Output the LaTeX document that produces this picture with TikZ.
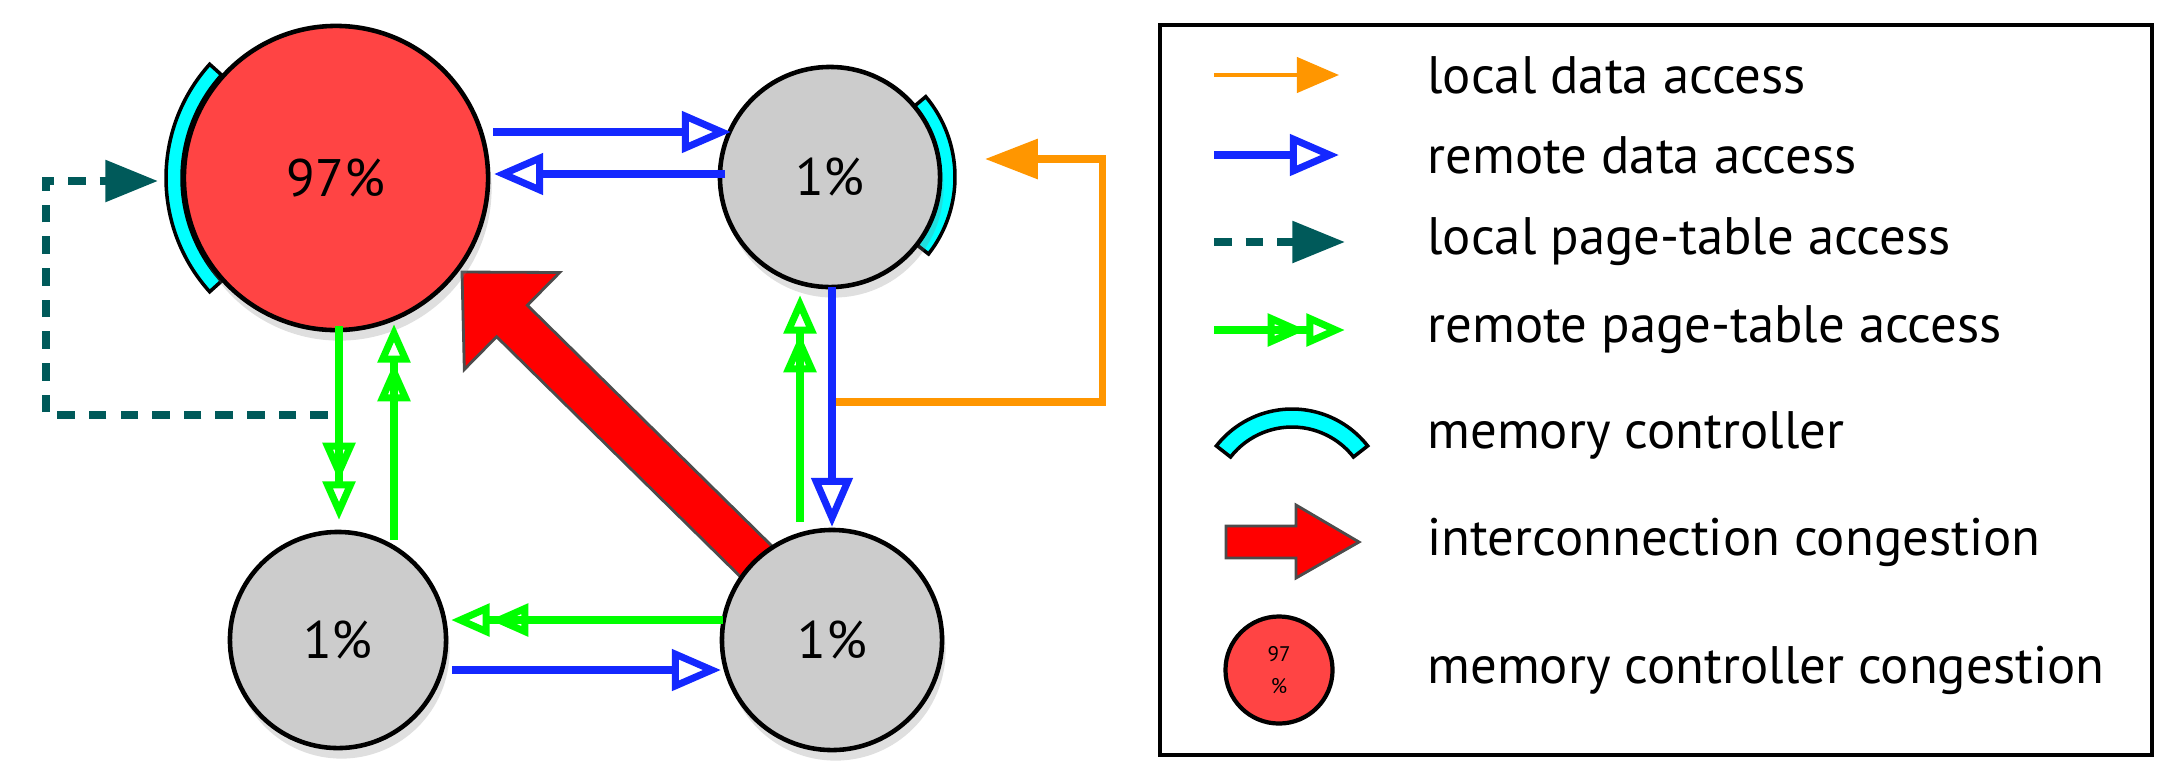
\documentclass[tikz,border=0pt]{standalone}
\usepackage{fontspec}
\setmainfont{PT Sans}
\usetikzlibrary{arrows.meta,shadows,calc}
\definecolor{cred}{RGB}{255,68,68}
\definecolor{cgray}{RGB}{204,204,204}
\definecolor{cblue}{RGB}{20,40,255}
\definecolor{cgreen}{RGB}{0,255,0}
\definecolor{corange}{RGB}{255,150,0}
\definecolor{cteal}{RGB}{0,90,90}
\definecolor{ccyan}{RGB}{0,255,255}
\begin{document}
\begin{tikzpicture}[x=0.01cm,y=-0.01cm,
  node/.style={circle,draw=black,line width=1.3pt,inner sep=0pt,font=\fontsize{15}{18}\selectfont,drop shadow={opacity=0.25,shadow xshift=1pt,shadow yshift=-3pt}},
  rda/.style={cblue,line width=2.2pt,-{Triangle[open,length=14pt,width=11.5pt,line width=2pt]}},
  lda/.style={corange,line width=2pt,-{Triangle[length=15pt,width=11pt]}},
  lpt/.style={cteal,line width=2.2pt,dash pattern=on 5pt off 4pt,-{Triangle[length=15pt,width=11.5pt]}},
  rpt/.style={cgreen,line width=2.2pt,-{Triangle[open,length=11pt,width=9pt,line width=2pt]Triangle[open,length=11pt,width=9pt,line width=2pt]}},
  mc/.style={fill=ccyan,draw=black,line width=1pt},
  lbl/.style={anchor=west,font=\fontsize{15}{18}\selectfont}]
\useasboundingbox (0,0) rectangle (2167,775);
% congestion arrow
\filldraw[fill=red,draw=black!70,line width=0.8pt] (785.4,559.3) -- (527.4,305.3) -- (559.7,272.5) -- (462,272) -- (464.3,369.5) -- (496.6,336.7) -- (754.6,590.7) -- cycle;
% memory controllers
\begin{scope}[shift={(336,178)}]
\draw[mc] (138:154) arc[start angle=138,end angle=222,radius=154] -- (222:170) arc[start angle=222,end angle=138,radius=170] -- cycle;
\end{scope}
\begin{scope}[shift={(830,177)}]
\draw[mc] (-40:110) arc[start angle=-40,end angle=38,radius=110] -- (38:125) arc[start angle=38,end angle=-40,radius=125] -- cycle;
\end{scope}
% nodes
\node[node,fill=cred,minimum size=3.04cm] (A) at (336,178) {97\%};
\node[node,fill=cgray,minimum size=2.2cm] (B) at (830,177) {1\%};
\node[node,fill=cgray,minimum size=2.16cm] (C) at (338,640) {1\%};
\node[node,fill=cgray,minimum size=2.2cm] (D) at (832,640) {1\%};
% connectors
\coordinate (a1) at (493,132); \coordinate (b1) at (731,132);
\draw[rda] (a1) -- (b1);
\coordinate (b2) at (725,174); \coordinate (a2) at (494,174);
\draw[rda] (b2) -- (a2);
\coordinate (o1) at (836,402); \coordinate (o2) at (985,159);
\draw[lda] (o1) -- (1102,402) -- (1102,159) -- (o2);
\coordinate (b3) at (832,287); \coordinate (d3) at (832,527);
\draw[rda] (b3) -- (d3);
\coordinate (d4) at (800,522); \coordinate (b4) at (800,295);
\draw[rpt] (d4) -- (b4);
\coordinate (a5) at (339,326); \coordinate (c5) at (339,520);
\draw[rpt] (a5) -- (c5);
\coordinate (c6) at (394,540); \coordinate (a6) at (394,324);
\draw[rpt] (c6) -- (a6);
\coordinate (t1) at (328,415); \coordinate (t2) at (158,181);
\draw[lpt] (t1) -- (46,415) -- (46,181) -- (t2);
\coordinate (d7) at (723,620); \coordinate (c7) at (451,620);
\draw[rpt] (d7) -- (c7);
\coordinate (c8) at (452,670); \coordinate (d8) at (721,670);
\draw[rda] (c8) -- (d8);
% legend
\draw[line width=1.3pt] (1160,25) rectangle (2152,755);
\coordinate (l1a) at (1214,75); \coordinate (l1b) at (1339,75);
\draw[corange,line width=1.2pt,-{Triangle[length=12pt,width=10pt]}] (l1a) -- (l1b);
\node[lbl] at (1415,75) {local data access};
\coordinate (l2a) at (1214,155); \coordinate (l2b) at (1339,155);
\draw[rda] (l2a) -- (l2b);
\node[lbl] at (1415,155) {remote data access};
\coordinate (l3a) at (1214,242); \coordinate (l3b) at (1345,242);
\draw[lpt] (l3a) -- (l3b);
\node[lbl] at (1415,242) {local page-table access};
\coordinate (l4a) at (1214,330); \coordinate (l4b) at (1345,330);
\draw[rpt] (l4a) -- (l4b);
\node[lbl] at (1415,330) {remote page-table access};
\begin{scope}[shift={(1292,505)}]
\draw[mc] (218:78) arc[start angle=218,end angle=322,radius=78] -- (322:96) arc[start angle=322,end angle=218,radius=96] -- cycle;
\end{scope}
\node[lbl] at (1415,435) {memory controller};
\filldraw[fill=red,draw=black!70,line width=0.8pt] (1226,526) -- (1296,526) -- (1296,505) -- (1359,542) -- (1296,578) -- (1296,558) -- (1226,558) -- cycle;
\node[lbl] at (1415,542) {interconnection congestion};
\node[circle,draw=black,line width=1.2pt,fill=cred,minimum size=1.07cm,inner sep=0pt,align=center,font=\fontsize{6}{9}\selectfont] (L) at (1279,670) {97\\\%};
\node[lbl] at (1415,670) {memory controller congestion};
\end{tikzpicture}
\end{document}
